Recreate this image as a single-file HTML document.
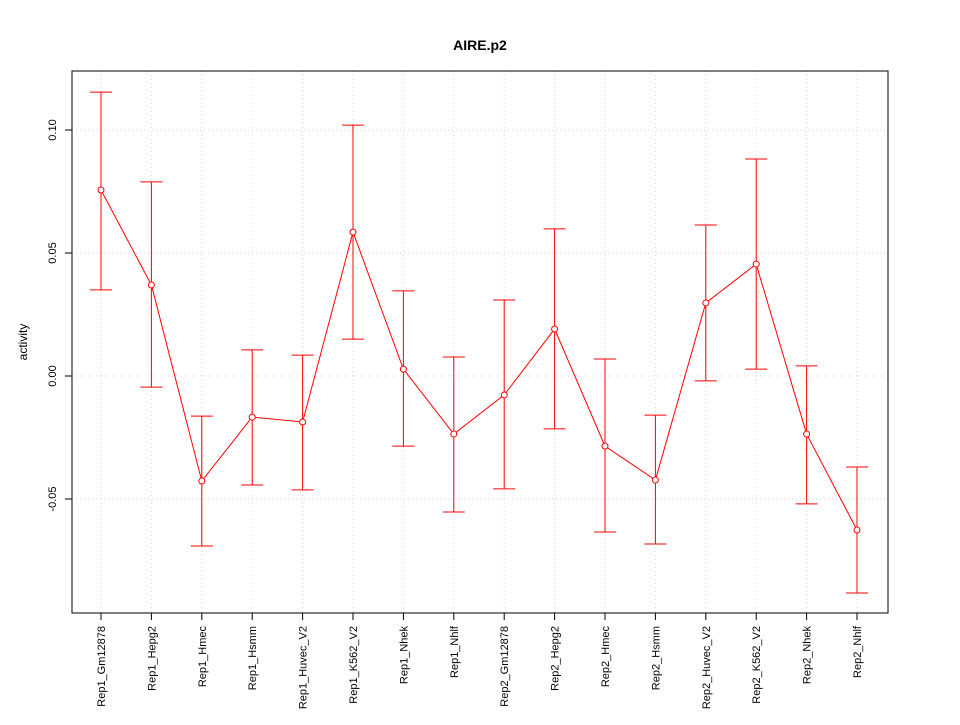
<!DOCTYPE html>
<html><head><meta charset="utf-8"><style>
body{margin:0;background:#fff;}
svg text{font-family:"Liberation Sans",sans-serif;}
</style></head><body>
<svg id="chart" width="960" height="720" xmlns="http://www.w3.org/2000/svg">
<rect width="960" height="720" fill="#fff"/>
<text x="480" y="50" text-anchor="middle" font-size="14" font-weight="bold">AIRE.p2</text>
<text x="0" y="0" transform="translate(27,342) rotate(-90)" text-anchor="middle" font-size="12">activity</text>
<g id="grid"></g><g id="axes"></g><g id="marks"></g>
<rect x="72" y="71" width="816" height="542" fill="none" stroke="#000"/>
</svg>
<script>
const categories=["Rep1_Gm12878","Rep1_Hepg2","Rep1_Hmec","Rep1_Hsmm","Rep1_Huvec_V2","Rep1_K562_V2","Rep1_Nhek","Rep1_Nhlf","Rep2_Gm12878","Rep2_Hepg2","Rep2_Hmec","Rep2_Hsmm","Rep2_Huvec_V2","Rep2_K562_V2","Rep2_Nhek","Rep2_Nhlf"];
const means=[0.0756,0.037,-0.0427,-0.0167,-0.0187,0.0585,0.0028,-0.0236,-0.0077,0.0191,-0.0285,-0.0423,0.0297,0.0455,-0.0236,-0.0626];
const upper=[0.1154,0.0789,-0.0163,0.0106,0.0085,0.102,0.0346,0.0077,0.0309,0.0598,0.0069,-0.0159,0.0614,0.0882,0.0041,-0.037];
const lower=[0.035,-0.0045,-0.0691,-0.0443,-0.0463,0.015,-0.0285,-0.0553,-0.0459,-0.0215,-0.0634,-0.0683,-0.002,0.0028,-0.052,-0.0882];
const yTicks=[-0.05,0,0.05,0.10];
const yTickLabels=["-0.05","0.00","0.05","0.10"];
const NS="http://www.w3.org/2000/svg";
const X=i=>101+i*(756/(categories.length-1));
const Y=v=>376-v*2460;
function mk(tag,attrs,parent){const e=document.createElementNS(NS,tag);for(const k in attrs)e.setAttribute(k,attrs[k]);document.getElementById(parent).appendChild(e);return e;}
categories.forEach((c,i)=>{
 const g=mk('line',{x1:X(i),x2:X(i),y1:71,y2:613,stroke:'#d3d3d3','stroke-dasharray':'1,3'},'grid');
 
 
 const t=mk('line',{x1:X(i),x2:X(i),y1:613,y2:620,stroke:'#000'},'axes');
 
 
 const l=mk('text',{transform:`translate(${X(i)+4},626) rotate(-90)`,'text-anchor':'end','font-size':'11'},'axes');
 l.textContent=c;
 
 
});
mk('line',{x1:X(0),x2:X(categories.length-1),y1:613,y2:613,stroke:'#000'},'axes');
yTicks.forEach((v,i)=>{
 const g=mk('line',{x1:72,x2:888,y1:Y(v),y2:Y(v),stroke:'#d3d3d3','stroke-dasharray':'1,3'},'grid');
 
 
 const t=mk('line',{x1:65,x2:72,y1:Y(v),y2:Y(v),stroke:'#000'},'axes');
 
 
 const l=mk('text',{transform:`translate(56,${Y(v)}) rotate(-90)`,'text-anchor':'middle','font-size':'11'},'axes');
 l.textContent=yTickLabels[i];
 
 
});
const line=mk('polyline',{points:means.map((v,i)=>X(i)+','+Y(v)).join(' '),fill:'none',stroke:'#ff0000'},'marks');


means.forEach((v,i)=>{
 const x=X(i);
 const eb=mk('path',{d:`M${x},${Y(lower[i])}V${Y(upper[i])}M${x-11},${Y(upper[i])}H${x+11}M${x-11},${Y(lower[i])}H${x+11}`,stroke:'#ff0000',fill:'none'},'marks');
 
 
 const p=mk('circle',{cx:x,cy:Y(v),r:3,fill:'#fff',stroke:'#ff0000'},'marks');
 
 
});
</script>
</body></html>
